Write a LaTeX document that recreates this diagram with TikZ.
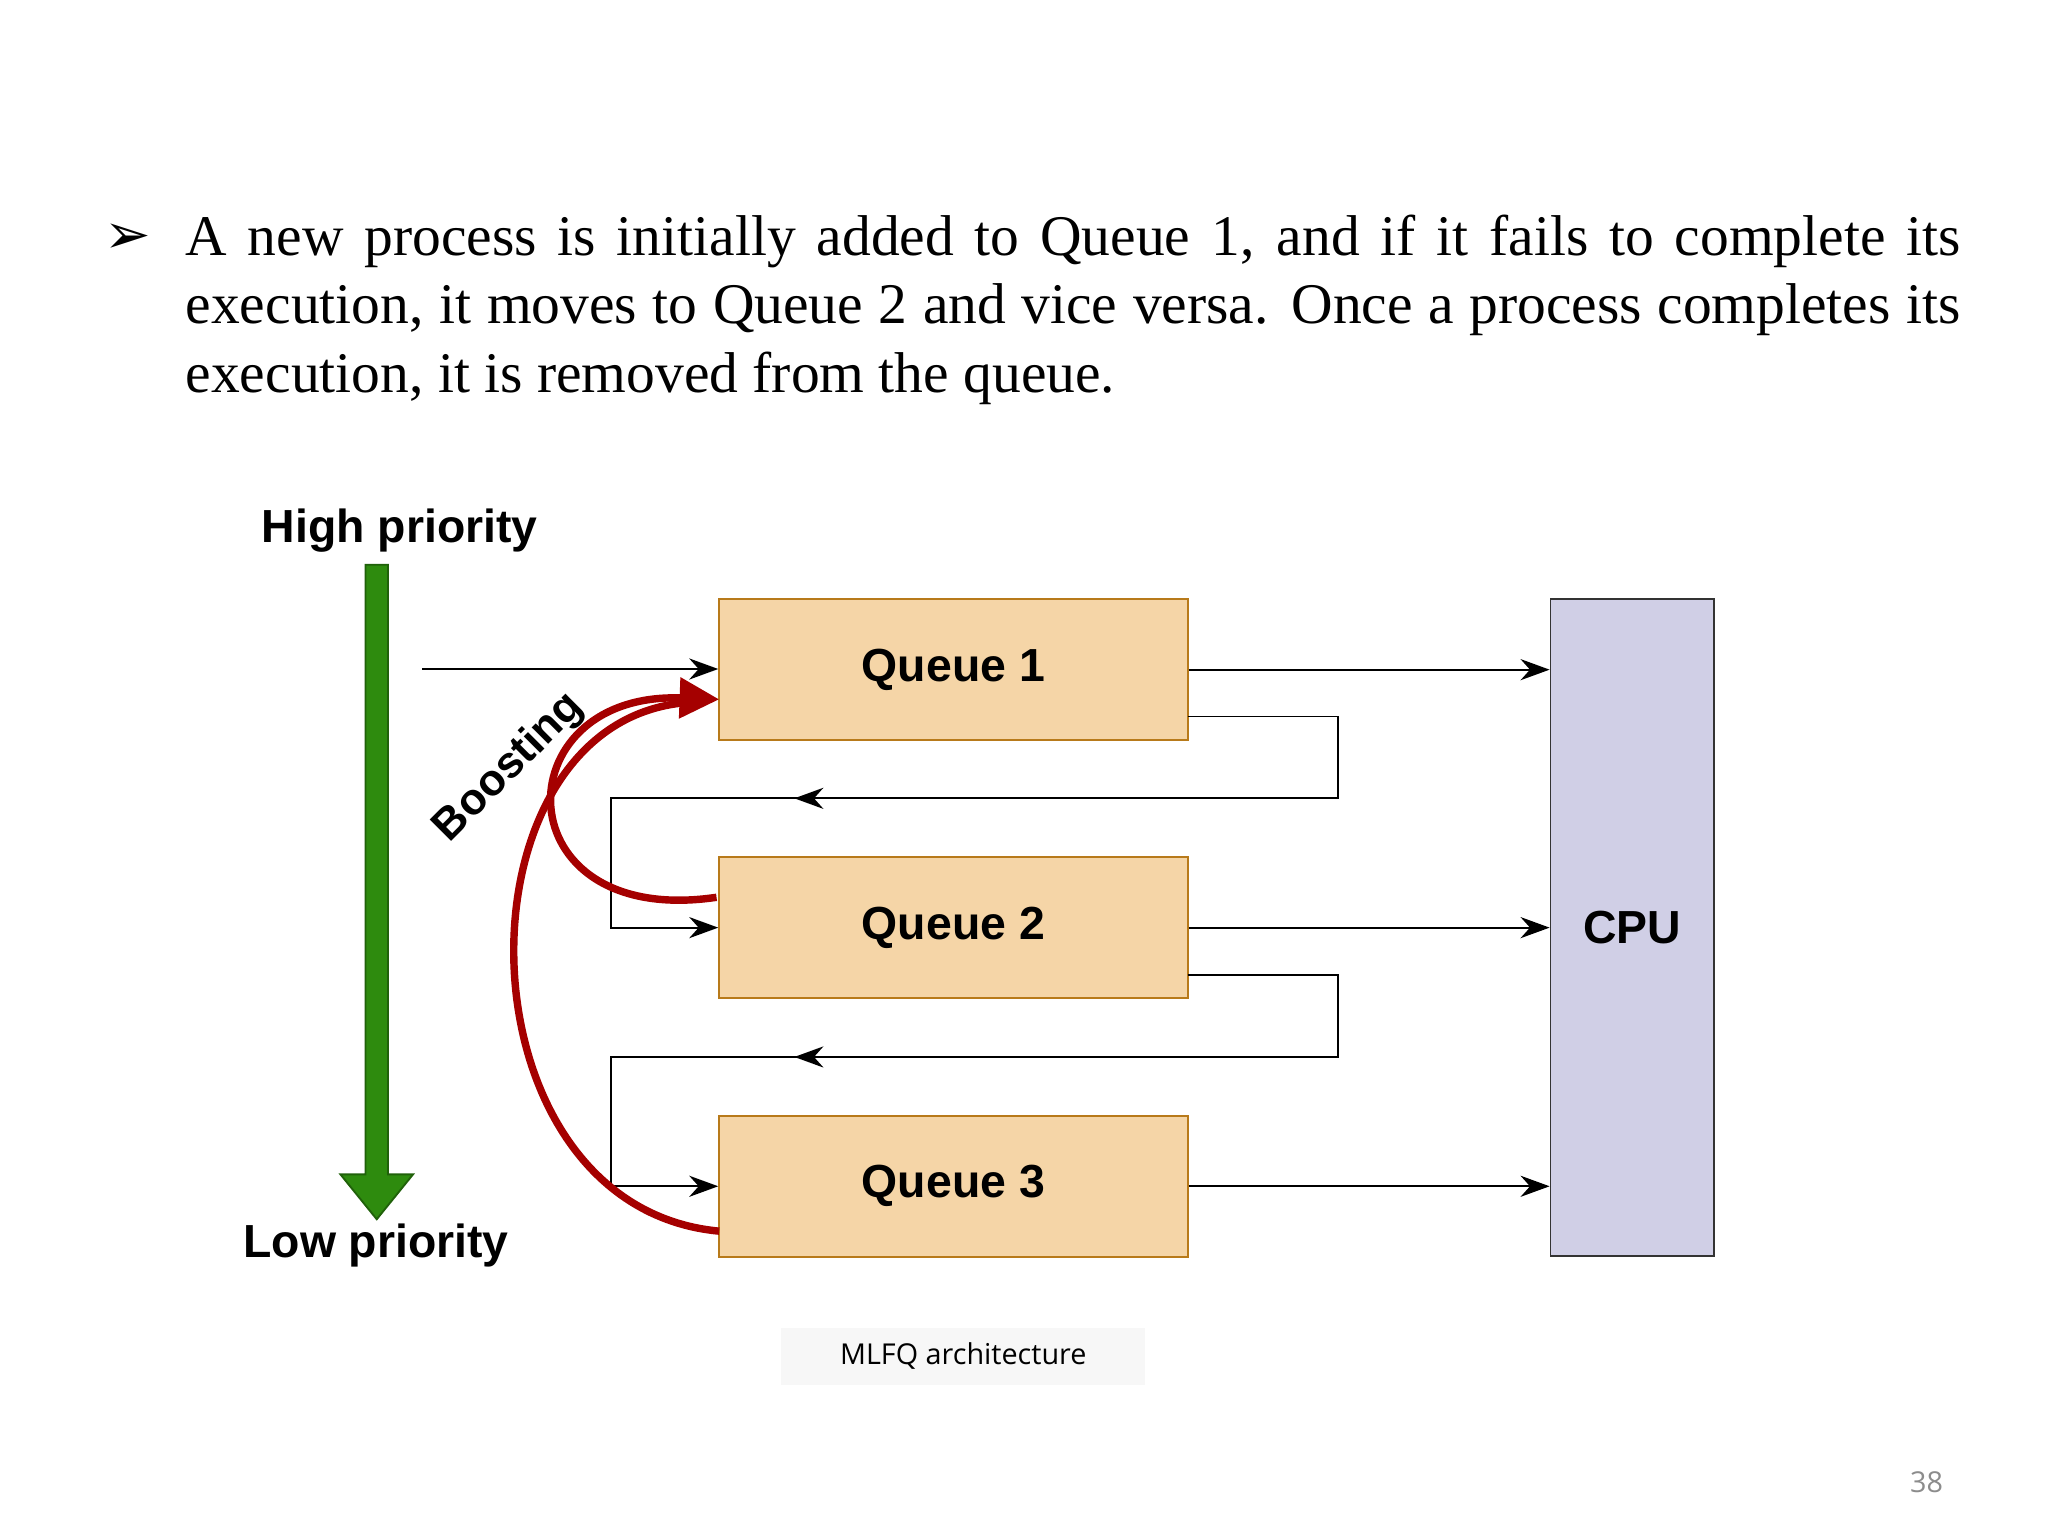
\documentclass[tikz,border=0pt]{standalone}
\usepackage{fontspec}
\setmainfont{Liberation Serif}
\newfontfamily\arialfont{Liberation Sans}
\newfontfamily\capfont{Open Sans}
\newfontfamily\dingfont{DejaVu Sans}
\usetikzlibrary{arrows.meta,positioning}
\definecolor{queuefill}{HTML}{F5D5A7}
\definecolor{queuedraw}{HTML}{B87A1A}
\definecolor{cpufill}{HTML}{D0CFE6}
\definecolor{boostred}{HTML}{A50000}
\definecolor{prioGreen}{HTML}{2E8B0E}

\begin{document}
\begin{tikzpicture}[
    queue/.style={rectangle, draw=queuedraw, fill=queuefill, minimum width=3.55cm, minimum height=1.07cm, font=\arialfont\fontsize{10pt}{12pt}\selectfont\bfseries},
    cpu/.style={rectangle, draw=black!80, fill=cpufill, minimum width=1.24cm, minimum height=4.98cm, font=\arialfont\fontsize{10pt}{12pt}\selectfont\bfseries},
    label/.style={font=\arialfont\fontsize{10pt}{12pt}\selectfont\bfseries},
    arrow/.style={-{Stealth[length=2.2mm,width=1.6mm]}, thin},
    boost/.style={boostred, line width=1.6pt},
    every node/.style={align=center}
]
\useasboundingbox (0,0) rectangle (15.52,11.64);

% Explanation text
\node[font=\dingfont\fontsize{12pt}{12pt}\selectfont] (bullet) at (0.97,9.83) {➢};
\node[anchor=north west, inner sep=0pt, text width=13.45cm, align=justify, font=\fontsize{12.4pt}{14.8pt}\selectfont] (text) at (1.40,10.02)
  {A new process is initially added to Queue 1, and if it fails to complete its execution, it moves to Queue 2 and vice versa. Once a process completes its execution, it is removed from the queue.};

% Queues and CPU
\node[queue] (q1) at (7.225,6.565) {Queue 1};
\node[queue] (q2) at (7.225,4.61) {Queue 2};
\node[queue] (q3) at (7.225,2.65) {Queue 3};
\node[cpu] (cpu) at (12.37,4.61) {CPU};

% Priority arrow
\node[label] (high) at (3.03,7.62) {High priority};
\node[label] (low) at (2.85,2.20) {Low priority};
\fill[prioGreen, draw=prioGreen!70!black, thin] (2.77,7.36) -- (2.94,7.36) -- (2.94,2.74) -- (3.13,2.74)
  -- (2.855,2.40) -- (2.58,2.74) -- (2.77,2.74) -- cycle;

% Entry and dispatch
\coordinate (entry) at (3.20,6.57);
\draw[arrow] (entry) -- (q1.west |- entry);
\draw[arrow] (q1.east) -- (q1.east -| cpu.west);
\draw[arrow] (q2.east) -- (q2.east -| cpu.west);
\draw[arrow] (q3.east) -- (q3.east -| cpu.west);

% Demotion loops
\coordinate (d1) at (9.00,6.21);
\coordinate (d2) at (9.00,4.25);
\draw (d1) -- (10.14,6.21) -- (10.14,5.59) -- (6.10,5.59);
\draw[arrow] (10.14,5.59) -- (6.02,5.59);
\draw[arrow] (6.10,5.59) -- (4.63,5.59) -- (4.63,4.61) -- (q2.west);
\draw (d2) -- (10.14,4.25) -- (10.14,3.63) -- (6.10,3.63);
\draw[arrow] (10.14,3.63) -- (6.02,3.63);
\draw[arrow] (6.10,3.63) -- (4.63,3.63) -- (4.63,2.65) -- (q3.west);

% Boosting
\coordinate (b1) at (5.45,6.34);
\coordinate (b2) at (5.43,4.84);
\coordinate (b3) at (5.45,2.31);
\draw[boost] (b3) .. controls (3.4,2.5) and (3.4,6.3) .. (5.30,6.32);
\draw[boost, -{Triangle[length=3mm,width=3mm]}] (b2) .. controls (3.8,4.6) and (3.8,6.4) .. (b1);
\node[label, rotate=45, font=\arialfont\fontsize{9.5pt}{11pt}\selectfont\bfseries] (boosting) at (3.86,5.82) {Boosting};

% Caption
\node[fill=black!3, minimum width=2.76cm, minimum height=0.40cm, font=\capfont\fontsize{6.2pt}{8pt}\selectfont] (caption) at (7.30,1.36) {MLFQ architecture};
\node[text=black!45, font=\capfont\fontsize{6.2pt}{8pt}\selectfont] (page) at (14.60,0.41) {38};

\end{tikzpicture}
\end{document}
